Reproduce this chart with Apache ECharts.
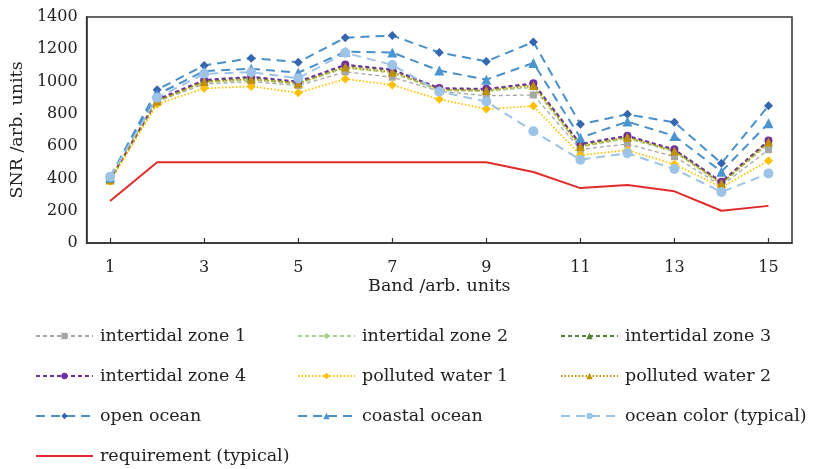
<!DOCTYPE html>
<html>
<head>
<meta charset="utf-8">
<script src="https://cdn.jsdelivr.net/npm/echarts@6/dist/echarts.min.js"></script>
<style>
  html, body { margin: 0; padding: 0; background: #ffffff; }
  #chart { width: 816px; height: 469px; }
</style>
</head>
<body>
<div id="chart"></div>
<script>
// Spectral bands
const bands = ['1', '2', '3', '4', '5', '6', '7', '8', '9', '10', '11', '12', '13', '14', '15'];

// SNR per band for each scene type
const intertidal1 = [390, 875, 985, 1000, 975, 1060, 1027, 940, 912, 917, 580, 613, 535, 355, 578];
const intertidal2 = [392, 880, 995, 1010, 985, 1085, 1055, 945, 940, 965, 595, 648, 565, 365, 615];
const intertidal3 = [393, 885, 1005, 1025, 995, 1100, 1070, 955, 950, 985, 610, 660, 575, 375, 630];
const intertidal4 = [395, 890, 1010, 1030, 1000, 1105, 1075, 960, 955, 990, 615, 665, 580, 380, 635];
const polluted1 = [383, 860, 958, 970, 930, 1016, 979, 890, 830, 848, 545, 575, 488, 345, 510];
const polluted2 = [390, 880, 1000, 1015, 990, 1090, 1060, 950, 945, 975, 600, 655, 570, 370, 625];
const openOcean = [410, 950, 1100, 1145, 1120, 1272, 1285, 1180, 1125, 1245, 735, 797, 748, 494, 850];
const coastalOcean = [405, 920, 1065, 1080, 1055, 1185, 1180, 1068, 1012, 1115, 652, 752, 663, 442, 742];
const oceanColor = [410, 900, 1048, 1058, 1020, 1178, 1103, 938, 876, 692, 516, 556, 458, 316, 430];
const requirement = [260, 500, 500, 500, 500, 500, 500, 500, 500, 440, 340, 360, 320, 200, 230];

const FONT = 'DejaVu Serif';
const TEXT = '#222222';

function lineSeries(name, data, color, symbol, symbolSize, dash, width, markerColor) {
  return {
    name: name,
    type: 'line',
    data: data,
    symbol: symbol,
    symbolSize: symbolSize,
    showSymbol: symbol !== 'none',
    lineStyle: { color: color, width: width, type: dash },
    itemStyle: { color: markerColor || color, borderWidth: 0 },
    emphasis: { disabled: true },
    animation: false
  };
}

const shortDash = [4, 3];
const dotted = [1.5, 2];
const longDash = [9, 6];

const series = [
  lineSeries('intertidal zone 1', intertidal1, '#a6a6a6', 'rect', 7, shortDash, 1.3),
  lineSeries('intertidal zone 2', intertidal2, '#a9d18e', 'diamond', 8, shortDash, 1.8),
  lineSeries('intertidal zone 3', intertidal3, '#548235', 'triangle', 8, shortDash, 1.8),
  lineSeries('intertidal zone 4', intertidal4, '#7030a0', 'circle', 8, shortDash, 1.8),
  lineSeries('polluted water 1', polluted1, '#ffc000', 'diamond', 9, dotted, 1.8),
  lineSeries('polluted water 2', polluted2, '#bf9000', 'triangle', 9, dotted, 1.8),
  lineSeries('open ocean', openOcean, '#4a90c8', 'diamond', 9, longDash, 2, '#3566b0'),
  lineSeries('coastal ocean', coastalOcean, '#4a90c8', 'triangle', 10, longDash, 2, '#4a95cf'),
  lineSeries('ocean color (typical)', oceanColor, '#9dc3e6', 'circle', 10, longDash, 2),
  lineSeries('requirement (typical)', requirement, '#e02b2b', 'none', 0, 'solid', 2)
];

// One legend per column so the entries line up in a 3-column grid
function legendColumn(left, names) {
  return {
    orient: 'vertical',
    left: left,
    top: 326,
    height: 140,
    padding: 0,
    itemWidth: 57,
    itemHeight: 8,
    itemGap: 20,
    textStyle: { fontFamily: FONT, fontSize: 17.5, color: TEXT, lineHeight: 20, padding: [0, 0, 0, 2] },
    data: names,
    selectedMode: false
  };
}

const chart = echarts.init(document.getElementById('chart'), null, { renderer: 'canvas' });
chart.setOption({
  backgroundColor: '#ffffff',
  animation: false,
  grid: {
    left: 86, right: 24, top: 17, bottom: 226,
    show: true, borderColor: '#333333', borderWidth: 1.5, backgroundColor: 'transparent'
  },
  legend: [
    legendColumn(35, [
      'intertidal zone 1',
      'intertidal zone 4',
      'open ocean',
      // plain solid line in the key, no marker
      { name: 'requirement (typical)', itemStyle: { opacity: 0 } }
    ]),
    legendColumn(297, ['intertidal zone 2', 'polluted water 1', 'coastal ocean']),
    legendColumn(560, ['intertidal zone 3', 'polluted water 2', 'ocean color (typical)'])
  ],
  xAxis: {
    type: 'category',
    data: bands,
    boundaryGap: true,
    name: 'Band /arb. units',
    nameLocation: 'middle',
    nameGap: 34,
    nameTextStyle: { fontFamily: FONT, fontSize: 17.5, color: TEXT },
    axisLine: { lineStyle: { color: '#333333', width: 1.5 } },
    axisTick: { show: true, inside: true, alignWithLabel: true, interval: 1, length: 5, lineStyle: { color: '#333333', width: 1.2 } },
    axisLabel: { interval: 1, margin: 17, fontFamily: FONT, fontSize: 16, color: TEXT },
    splitLine: { show: false }
  },
  yAxis: {
    type: 'value',
    min: 0, max: 1400, interval: 200,
    name: 'SNR /arb. units',
    nameLocation: 'middle',
    nameGap: 58,
    nameTextStyle: { fontFamily: FONT, fontSize: 17.5, color: TEXT },
    axisLine: { show: true, lineStyle: { color: '#333333', width: 1.5 } },
    axisTick: { show: false },
    axisLabel: { margin: 9, fontFamily: FONT, fontSize: 16, color: TEXT, formatter: function (v) { return String(v); } },
    splitLine: { show: false }
  },
  series: series
});
</script>
</body>
</html>
